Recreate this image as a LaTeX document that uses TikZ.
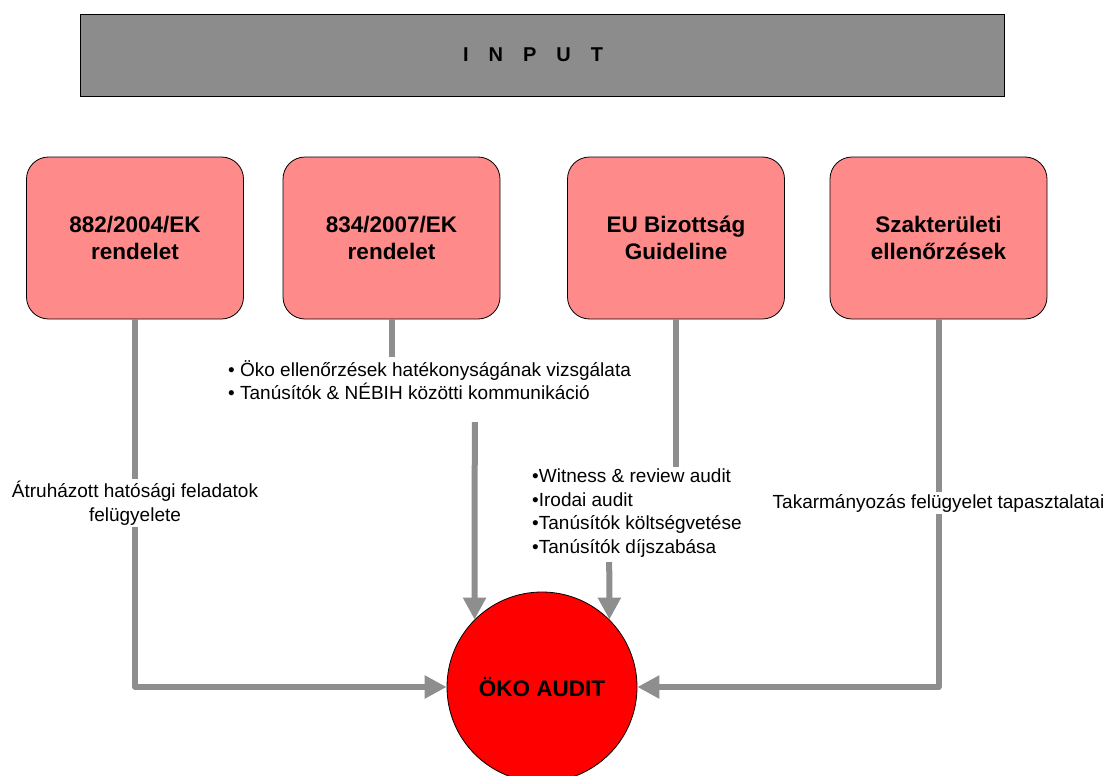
\documentclass[tikz,border=0pt]{standalone}
\usepackage{fontspec}
\setmainfont{Liberation Sans}
\usetikzlibrary{arrows.meta, positioning}
\definecolor{bargray}{HTML}{8C8C8C}
\definecolor{boxpink}{HTML}{FF8A8A}
\definecolor{linegray}{HTML}{8E8E8E}

\begin{document}
\begin{tikzpicture}[x=1pt,y=-1pt,>={Triangle[length=22pt,width=22pt]},
    bar/.style={draw=black,line width=0.8pt,fill=bargray,minimum width=924pt,minimum height=82pt,font=\fontsize{20pt}{24pt}\selectfont\bfseries},
    src/.style={draw=black,line width=0.8pt,fill=boxpink,rounded corners=22pt,minimum width=217pt,minimum height=162pt,align=center,font=\fontsize{22.5pt}{27pt}\selectfont\bfseries},
    audit/.style={circle,draw=black,line width=0.8pt,fill=red,minimum size=190pt,font=\fontsize{22.5pt}{27pt}\selectfont\bfseries},
    txt/.style={align=left,inner sep=2pt,font=\fontsize{19pt}{23.5pt}\selectfont},
    lbl/.style={align=center,fill=white,inner sep=2pt,font=\fontsize{19pt}{23.5pt}\selectfont},
    link/.style={draw=linegray,line width=6pt,line join=round}]
                    \useasboundingbox (0,0) rectangle (1108,776);
                    \node[bar] (input) at (542,55) {\hspace*{-18pt}I\hspace{20pt}N\hspace{20pt}P\hspace{20pt}U\hspace{20pt}T};
                    \node[src] (reg1) at (135,238) {882/2004/EK\\rendelet};
                    \node[src] (reg2) [right=38.7pt of reg1] {834/2007/EK\\rendelet};
                    \node[src] (guide) [right=66.7pt of reg2] {EU Bizottság\\Guideline};
                    \node[src] (szak) [right=44.7pt of guide] {Szakterületi\\ellenőrzések};
                    \node[audit] (audit) at (542,687) {ÖKO AUDIT};
                    \node[txt,anchor=west] (list1) at (226,380) {• Öko ellenőrzések hatékonyságának vizsgálata\\• Tanúsítók \& NÉBIH közötti kommunikáció};
                    \node[txt,anchor=west] (list2) at (530,513) {•Witness \& review audit\\•Irodai audit\\•Tanúsítók költségvetése\\•Tanúsítók díjszabása};
                    \coordinate (end1) at (391.5,357);
                    \coordinate (start1) at (474.8,422);
                    \coordinate (end2) at (676,467);
                    \coordinate (start2) at (609.2,562);

                    \draw[link,->] (reg1.south) |- node[lbl,pos=0.25] {Átruházott hatósági feladatok\\felügyelete} (audit.west);
                    \draw[link] (reg2.south) -- (reg2.south |- end1);
                    \draw[link,->] (start1) -- (audit.135);
                    \draw[link] (guide.south) -- (guide.south |- end2);
                    \draw[link,->] (start2) -- (audit.45);
                    \draw[link,->] (szak.south) |- node[lbl,pos=0.25] {Takarmányozás felügyelet tapasztalatai} (audit.east);
                \end{tikzpicture}
\end{document}
